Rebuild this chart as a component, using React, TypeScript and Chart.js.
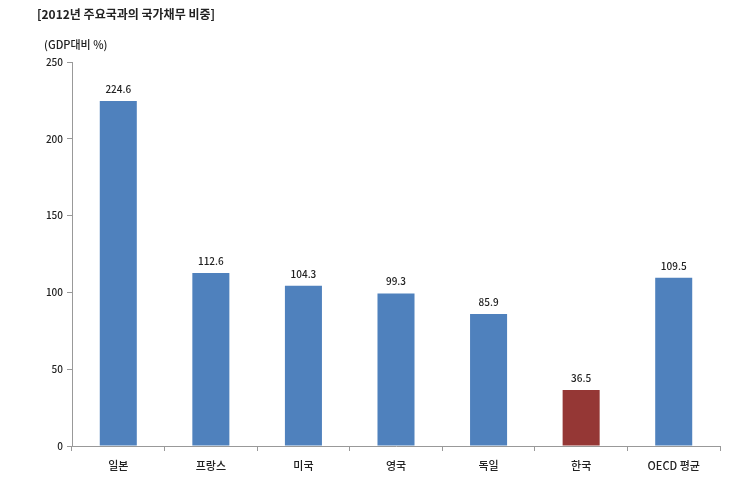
import React, { useEffect, useRef } from "react";
import { Chart, registerables } from "chart.js";

Chart.register(...registerables);

const title = "[2012년 주요국과의 국가채무 비중]";
const unitLabel = "(GDP대비 %)";
const categories = ["일본", "프랑스", "미국", "영국", "독일", "한국", "OECD 평균"];
const values = [224.6, 112.6, 104.3, 99.3, 85.9, 36.5, 109.5];
const valueLabels = ["224.6", "112.6", "104.3", "99.3", "85.9", "36.5", "109.5"];
const barColors = ["#4F81BD", "#4F81BD", "#4F81BD", "#4F81BD", "#4F81BD", "#953735", "#4F81BD"];
const yTicks = [0, 50, 100, 150, 200, 250];

const FONT = "'Noto Sans CJK KR', 'Noto Sans', sans-serif";

export default function App() {
  const ref = useRef<HTMLCanvasElement | null>(null);
  useEffect(() => {
    if (!ref.current) return;
    const textPlugin = {
      id: "texts",
      afterDatasetsDraw(chart: any) {
        const ctx = chart.ctx;
        ctx.save();
        ctx.fillStyle = "#222";
        ctx.font = `bold 12px ${FONT}`;
        ctx.textBaseline = "middle";
        ctx.textAlign = "left";
        ctx.fillText(title, 37, 14);
        ctx.font = `500 11px ${FONT}`;
        ctx.fillText(unitLabel, 44, 45);
        const meta = chart.getDatasetMeta(0);
        ctx.textAlign = "center";
        ctx.textBaseline = "bottom";
        ctx.font = `500 10px ${FONT}`;
        meta.data.forEach((bar: any, i: number) => {
          ctx.fillText(valueLabels[i], bar.x, bar.y - 7);
        });
        ctx.restore();
      },
    };
    const chart = new Chart(ref.current, {
      type: "bar",
      data: {
        labels: categories,
        datasets: [
          {
            data: values,
            backgroundColor: barColors,
            borderColor: barColors,
            borderWidth: 0,
            barPercentage: 0.4,
            categoryPercentage: 1,
          },
        ],
      },
      options: {
        responsive: false,
        animation: false,
        layout: { padding: { top: 62, right: 11, left: 0, bottom: 0 } },
        plugins: { legend: { display: false }, tooltip: { enabled: false } },
        scales: {
          x: {
            offset: true,
            grid: {
              offset: true,
              drawOnChartArea: false,
              drawTicks: true,
              tickLength: 5,
              color: "#999",
            },
            border: { color: "#999" },
            ticks: {
              color: "#222",
              font: { family: FONT, size: 11, weight: "500" },
              padding: 8,
              maxRotation: 0,
              autoSkip: false,
            },
            afterFit(scale: any) {
              scale.height = 31;
            },
          },
          y: {
            min: 0,
            max: 250,
            afterBuildTicks(scale: any) {
              scale.ticks = yTicks.map((v) => ({ value: v }));
            },
            grid: {
              drawOnChartArea: false,
              drawTicks: true,
              tickLength: 5,
              color: "#999",
            },
            border: { color: "#999" },
            ticks: {
              color: "#222",
              font: { family: FONT, size: 10, weight: "500" },
              padding: 4,
            },
            afterFit(scale: any) {
              scale.width = 72;
            },
          },
        },
      },
      plugins: [textPlugin],
    });
    return () => chart.destroy();
  }, []);
  return (
    <div style={{ position: "fixed", left: 0, top: 0, width: 731, height: 477, background: "#fff" }}>
      <canvas ref={ref} width={731} height={477} style={{ width: 731, height: 477 }} />
    </div>
  );
}
